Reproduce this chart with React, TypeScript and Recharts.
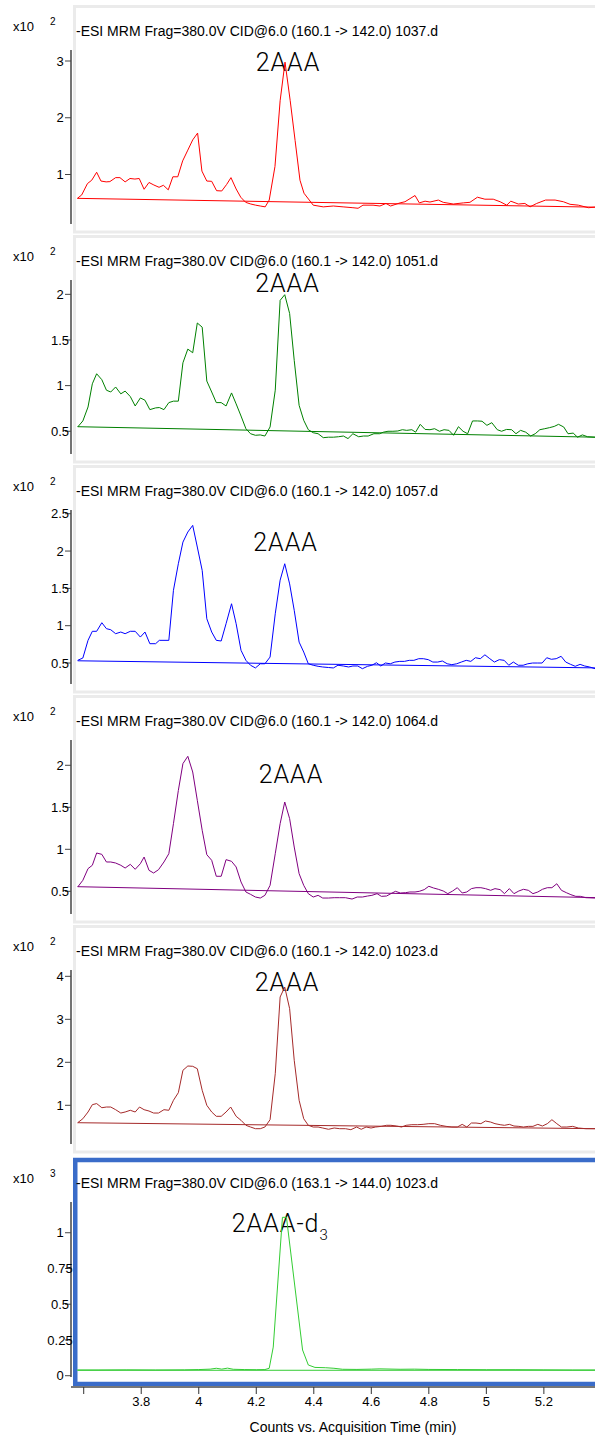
import { LineChart, Line, XAxis, YAxis } from 'recharts';

// time axis (min)
const TIME_DOMAIN: [number, number] = [3.5558, 5.3778];
const timeTicks = [3.6, 3.8, 4, 4.2, 4.4, 4.6, 4.8, 5, 5.2];

// counts x10^2, [time, counts]
const trace1037: [number, number][] = [
  [3.578, 0.58], [3.593, 0.64], [3.613, 0.84], [3.628, 0.9], [3.645, 1.04], [3.66, 0.885],
  [3.678, 0.87], [3.691, 0.875], [3.711, 0.945], [3.726, 0.945], [3.744, 0.87], [3.761, 0.93],
  [3.778, 0.92], [3.793, 0.93], [3.81, 0.74], [3.827, 0.86], [3.844, 0.815], [3.862, 0.775],
  [3.877, 0.81], [3.894, 0.73], [3.91, 0.96], [3.927, 0.96], [3.944, 1.24], [3.962, 1.43],
  [3.979, 1.61], [3.996, 1.73], [4.011, 1.06], [4.028, 0.885], [4.045, 0.88], [4.062, 0.715],
  [4.08, 0.71], [4.097, 0.825], [4.112, 0.945], [4.13, 0.745], [4.146, 0.6], [4.163, 0.51],
  [4.181, 0.48], [4.198, 0.46], [4.214, 0.445], [4.231, 0.43], [4.245, 0.55], [4.265, 1.14],
  [4.283, 2.3], [4.3, 2.98], [4.318, 2.3], [4.335, 1.6], [4.352, 0.9], [4.366, 0.67],
  [4.398, 0.46], [4.433, 0.43], [4.468, 0.445], [4.502, 0.43], [4.536, 0.415], [4.554, 0.405],
  [4.571, 0.46], [4.606, 0.46], [4.63, 0.445], [4.651, 0.49], [4.667, 0.445], [4.7, 0.5],
  [4.717, 0.52], [4.752, 0.63], [4.767, 0.5], [4.787, 0.53], [4.804, 0.515], [4.833, 0.55],
  [4.85, 0.51], [4.885, 0.48], [4.92, 0.5], [4.943, 0.51], [4.969, 0.6], [4.995, 0.565],
  [5.024, 0.565], [5.048, 0.52], [5.071, 0.46], [5.085, 0.53], [5.111, 0.48], [5.134, 0.49],
  [5.152, 0.43], [5.175, 0.49], [5.206, 0.55], [5.239, 0.55], [5.268, 0.52], [5.291, 0.475],
  [5.32, 0.46], [5.355, 0.415], [5.378, 0.425],
];
const baseline1037: [number, number][] = [[3.578, 0.58], [5.378, 0.425]];

const trace1051: [number, number][] = [
  [3.579, 0.547], [3.597, 0.613], [3.615, 0.766], [3.63, 1.02], [3.645, 1.13], [3.663, 1.065],
  [3.679, 0.95], [3.694, 0.93], [3.711, 0.985], [3.729, 0.91], [3.744, 0.94], [3.762, 0.88],
  [3.779, 0.777], [3.797, 0.865], [3.813, 0.84], [3.83, 0.737], [3.85, 0.756], [3.863, 0.76],
  [3.879, 0.737], [3.896, 0.814], [3.912, 0.83], [3.929, 0.83], [3.945, 1.25], [3.962, 1.4],
  [3.979, 1.36], [3.995, 1.686], [4.012, 1.64], [4.028, 1.05], [4.045, 0.93], [4.061, 0.814],
  [4.078, 0.814], [4.095, 0.777], [4.114, 0.92], [4.13, 0.8], [4.147, 0.667], [4.164, 0.528],
  [4.18, 0.473], [4.197, 0.456], [4.214, 0.46], [4.23, 0.448], [4.248, 0.547], [4.266, 0.95],
  [4.283, 1.934], [4.299, 1.996], [4.316, 1.79], [4.332, 1.277], [4.349, 0.784], [4.365, 0.62],
  [4.381, 0.517], [4.398, 0.484], [4.415, 0.473], [4.433, 0.43], [4.451, 0.435], [4.468, 0.435],
  [4.486, 0.44], [4.503, 0.448], [4.519, 0.42], [4.536, 0.473], [4.556, 0.44], [4.573, 0.448],
  [4.589, 0.448], [4.609, 0.473], [4.629, 0.473], [4.642, 0.49], [4.658, 0.5], [4.675, 0.5],
  [4.692, 0.503], [4.708, 0.517], [4.723, 0.51], [4.741, 0.517], [4.754, 0.49], [4.77, 0.576],
  [4.787, 0.52], [4.804, 0.517], [4.82, 0.528], [4.837, 0.5], [4.853, 0.517], [4.87, 0.51],
  [4.886, 0.456], [4.903, 0.55], [4.919, 0.5], [4.935, 0.473], [4.952, 0.613], [4.969, 0.613],
  [4.985, 0.61], [5.002, 0.565], [5.019, 0.594], [5.038, 0.517], [5.053, 0.5], [5.07, 0.52],
  [5.088, 0.517], [5.103, 0.473], [5.119, 0.51], [5.137, 0.49], [5.154, 0.448], [5.17, 0.473],
  [5.186, 0.517], [5.203, 0.528], [5.22, 0.54], [5.236, 0.553], [5.251, 0.576], [5.269, 0.547],
  [5.284, 0.473], [5.302, 0.48], [5.317, 0.435], [5.334, 0.46], [5.352, 0.44], [5.378, 0.435],
];
const baseline1051: [number, number][] = [[3.579, 0.55], [5.378, 0.435]];

const trace1057: [number, number][] = [
  [3.579, 0.536], [3.597, 0.567], [3.615, 0.804], [3.63, 0.925], [3.645, 0.925], [3.663, 1.04],
  [3.679, 0.96], [3.694, 0.946], [3.711, 0.893], [3.729, 0.915], [3.744, 0.893], [3.762, 0.925],
  [3.779, 0.925], [3.797, 0.848], [3.813, 0.915], [3.83, 0.759], [3.85, 0.759], [3.863, 0.804],
  [3.896, 0.804], [3.912, 1.474], [3.929, 1.83], [3.945, 2.12], [3.962, 2.255], [3.979, 2.344],
  [3.995, 2.054], [4.012, 1.74], [4.028, 1.093], [4.045, 0.915], [4.061, 0.804], [4.078, 0.795],
  [4.095, 1.027], [4.114, 1.294], [4.13, 1.027], [4.147, 0.67], [4.164, 0.536], [4.18, 0.47],
  [4.197, 0.434], [4.214, 0.49], [4.23, 0.49], [4.248, 0.58], [4.266, 1.16], [4.283, 1.61],
  [4.299, 1.83], [4.316, 1.56], [4.332, 1.206], [4.349, 0.78], [4.365, 0.647], [4.381, 0.49],
  [4.398, 0.47], [4.415, 0.456], [4.431, 0.447], [4.451, 0.44], [4.468, 0.434], [4.484, 0.47],
  [4.503, 0.46], [4.521, 0.447], [4.536, 0.46], [4.553, 0.46], [4.569, 0.424], [4.587, 0.456],
  [4.602, 0.47], [4.618, 0.504], [4.633, 0.46], [4.649, 0.5], [4.666, 0.49], [4.682, 0.513],
  [4.699, 0.522], [4.715, 0.522], [4.732, 0.536], [4.748, 0.536], [4.765, 0.558], [4.781, 0.558],
  [4.798, 0.545], [4.814, 0.513], [4.831, 0.513], [4.847, 0.527], [4.864, 0.49], [4.88, 0.478],
  [4.897, 0.49], [4.913, 0.513], [4.93, 0.536], [4.946, 0.522], [4.962, 0.571], [4.979, 0.558],
  [4.995, 0.61], [5.012, 0.558], [5.028, 0.513], [5.045, 0.545], [5.062, 0.536], [5.078, 0.47],
  [5.094, 0.513], [5.111, 0.47], [5.128, 0.47], [5.144, 0.49], [5.161, 0.5], [5.177, 0.5],
  [5.194, 0.5], [5.21, 0.571], [5.226, 0.55], [5.243, 0.558], [5.26, 0.59], [5.276, 0.513],
  [5.293, 0.482], [5.309, 0.456], [5.326, 0.482], [5.342, 0.46], [5.359, 0.447], [5.378, 0.424],
];
const baseline1057: [number, number][] = [[3.579, 0.53], [5.378, 0.435]];

const trace1064: [number, number][] = [
  [3.579, 0.551], [3.597, 0.631], [3.615, 0.77], [3.63, 0.81], [3.645, 0.956], [3.663, 0.94],
  [3.679, 0.849], [3.694, 0.849], [3.711, 0.837], [3.729, 0.81], [3.744, 0.777], [3.762, 0.821],
  [3.779, 0.762], [3.797, 0.829], [3.81, 0.908], [3.827, 0.75], [3.843, 0.718], [3.86, 0.757],
  [3.879, 0.849], [3.896, 0.948], [3.912, 1.305], [3.929, 1.7], [3.945, 2.02], [3.962, 2.107],
  [3.979, 1.92], [3.995, 1.583], [4.012, 1.226], [4.028, 0.936], [4.045, 0.869], [4.061, 0.679],
  [4.078, 0.679], [4.095, 0.877], [4.114, 0.857], [4.13, 0.79], [4.147, 0.611], [4.164, 0.492],
  [4.18, 0.464], [4.197, 0.432], [4.214, 0.42], [4.23, 0.452], [4.248, 0.571], [4.266, 0.948],
  [4.283, 1.305], [4.299, 1.563], [4.316, 1.365], [4.332, 1.027], [4.349, 0.71], [4.365, 0.571],
  [4.381, 0.472], [4.398, 0.432], [4.415, 0.452], [4.431, 0.42], [4.451, 0.42], [4.471, 0.424],
  [4.49, 0.424], [4.51, 0.424], [4.533, 0.408], [4.551, 0.432], [4.569, 0.432], [4.587, 0.444],
  [4.602, 0.452], [4.62, 0.472], [4.635, 0.44], [4.653, 0.444], [4.668, 0.472], [4.684, 0.5],
  [4.701, 0.48], [4.719, 0.484], [4.734, 0.492], [4.752, 0.492], [4.767, 0.5], [4.784, 0.52],
  [4.8, 0.56], [4.816, 0.54], [4.833, 0.524], [4.85, 0.504], [4.866, 0.472], [4.883, 0.504],
  [4.899, 0.543], [4.916, 0.48], [4.932, 0.492], [4.948, 0.532], [4.964, 0.543], [4.981, 0.543],
  [4.997, 0.532], [5.015, 0.512], [5.03, 0.532], [5.048, 0.52], [5.063, 0.472], [5.08, 0.532],
  [5.096, 0.472], [5.113, 0.504], [5.129, 0.524], [5.146, 0.512], [5.162, 0.472], [5.179, 0.492],
  [5.195, 0.524], [5.212, 0.543], [5.228, 0.543], [5.245, 0.59], [5.261, 0.512], [5.278, 0.484],
  [5.294, 0.46], [5.311, 0.44], [5.327, 0.44], [5.346, 0.424], [5.378, 0.42],
];
const baseline1064: [number, number][] = [[3.579, 0.555], [5.378, 0.425]];

const trace1023: [number, number][] = [
  [3.579, 0.595], [3.597, 0.688], [3.615, 0.844], [3.63, 1.015], [3.645, 1.04], [3.663, 0.944],
  [3.679, 0.96], [3.694, 0.96], [3.711, 0.898], [3.729, 0.82], [3.744, 0.844], [3.762, 0.884],
  [3.779, 0.844], [3.794, 0.96], [3.81, 0.898], [3.827, 0.867], [3.843, 0.82], [3.86, 0.82],
  [3.879, 0.898], [3.896, 0.884], [3.912, 1.116], [3.929, 1.293], [3.945, 1.814], [3.962, 1.914],
  [3.979, 1.907], [3.995, 1.851], [4.012, 1.349], [4.028, 1.0], [4.045, 0.844], [4.061, 0.744],
  [4.078, 0.744], [4.095, 0.844], [4.111, 0.96], [4.13, 0.744], [4.147, 0.651], [4.164, 0.535],
  [4.18, 0.495], [4.197, 0.456], [4.214, 0.456], [4.23, 0.495], [4.248, 0.665], [4.266, 1.735],
  [4.283, 3.519], [4.299, 3.75], [4.316, 3.247], [4.332, 2.047], [4.349, 1.116], [4.365, 0.688],
  [4.381, 0.535], [4.398, 0.495], [4.415, 0.495], [4.431, 0.472], [4.451, 0.442], [4.471, 0.472],
  [4.49, 0.456], [4.51, 0.456], [4.529, 0.433], [4.549, 0.495], [4.565, 0.442], [4.582, 0.495],
  [4.599, 0.472], [4.615, 0.495], [4.635, 0.51], [4.653, 0.535], [4.668, 0.535], [4.688, 0.518],
  [4.705, 0.495], [4.721, 0.535], [4.741, 0.549], [4.761, 0.549], [4.78, 0.557], [4.8, 0.573],
  [4.82, 0.573], [4.84, 0.535], [4.86, 0.51], [4.88, 0.495], [4.899, 0.495], [4.916, 0.557],
  [4.932, 0.495], [4.948, 0.588], [4.964, 0.588], [4.981, 0.573], [4.997, 0.635], [5.015, 0.61],
  [5.03, 0.573], [5.048, 0.549], [5.063, 0.535], [5.08, 0.557], [5.096, 0.518], [5.113, 0.51],
  [5.129, 0.495], [5.146, 0.51], [5.162, 0.51], [5.179, 0.557], [5.195, 0.518], [5.212, 0.573],
  [5.228, 0.665], [5.245, 0.573], [5.261, 0.495], [5.28, 0.495], [5.3, 0.51], [5.32, 0.472],
  [5.346, 0.456], [5.378, 0.456],
];
const baseline1023: [number, number][] = [[3.579, 0.595], [5.378, 0.456]];

// counts x10^3
const traceD3: [number, number][] = [
  [3.578, 0.04], [3.65, 0.04], [3.75, 0.041], [3.85, 0.04], [3.95, 0.041], [4.0, 0.043],
  [4.04, 0.046], [4.061, 0.052], [4.08, 0.046], [4.1, 0.053], [4.12, 0.045], [4.16, 0.043],
  [4.2, 0.042], [4.23, 0.043], [4.245, 0.052], [4.259, 0.2], [4.291, 1.108], [4.305, 1.108],
  [4.361, 0.18], [4.381, 0.075], [4.404, 0.058], [4.44, 0.056], [4.47, 0.052], [4.5, 0.045],
  [4.55, 0.044], [4.6, 0.046], [4.63, 0.048], [4.7, 0.045], [4.75, 0.046], [4.8, 0.044],
  [4.9, 0.043], [5.0, 0.042], [5.1, 0.042], [5.2, 0.041], [5.3, 0.04], [5.378, 0.04],
];
const baselineD3: [number, number][] = [[3.578, 0.038], [5.378, 0.038]];

const toPoints = (arr: [number, number][]) => arr.map(([t, v]) => ({ t, v }));

interface Panel {
  top: number;
  title: string;
  exponent: string;
  color: string;
  trace: [number, number][];
  baseline: [number, number][];
  yDomain: [number, number];
  yTicks: number[];
  label: string;
  labelX: number;
  labelY: number;
  plotTop: number;
  plotHeight: number;
  highlight?: boolean;
}

const panels: Panel[] = [
  {
    top: 5, title: '-ESI MRM Frag=380.0V CID@6.0 (160.1 -> 142.0) 1037.d', exponent: '2',
    color: '#ff0000', trace: trace1037, baseline: baseline1037,
    yDomain: [0.128, 3.194], yTicks: [1, 2, 3], label: '2AAA', labelX: 288, labelY: 62,
    plotTop: 45, plotHeight: 174,
  },
  {
    top: 235, title: '-ESI MRM Frag=380.0V CID@6.0 (160.1 -> 142.0) 1051.d', exponent: '2',
    color: '#008000', trace: trace1051, baseline: baseline1051,
    yDomain: [0.251, 2.157], yTicks: [0.5, 1, 1.5, 2], label: '2AAA', labelX: 287.5, labelY: 283,
    plotTop: 45, plotHeight: 174,
  },
  {
    top: 465, title: '-ESI MRM Frag=380.0V CID@6.0 (160.1 -> 142.0) 1057.d', exponent: '2',
    color: '#0000ff', trace: trace1057, baseline: baseline1057,
    yDomain: [0.219, 2.55], yTicks: [0.5, 1, 1.5, 2, 2.5], label: '2AAA', labelX: 285.6, labelY: 542,
    plotTop: 45, plotHeight: 174,
  },
  {
    top: 695, title: '-ESI MRM Frag=380.0V CID@6.0 (160.1 -> 142.0) 1064.d', exponent: '2',
    color: '#800080', trace: trace1064, baseline: baseline1064,
    yDomain: [0.23, 2.301], yTicks: [0.5, 1, 1.5, 2], label: '2AAA', labelX: 291, labelY: 773.7,
    plotTop: 45, plotHeight: 174,
  },
  {
    top: 925, title: '-ESI MRM Frag=380.0V CID@6.0 (160.1 -> 142.0) 1023.d', exponent: '2',
    color: '#a52a2a', trace: trace1023, baseline: baseline1023,
    yDomain: [0.1, 4.147], yTicks: [1, 2, 3, 4], label: '2AAA', labelX: 287, labelY: 982,
    plotTop: 45, plotHeight: 174,
  },
  {
    top: 1157, title: '-ESI MRM Frag=380.0V CID@6.0 (163.1 -> 144.0) 1023.d', exponent: '3',
    color: '#33cc33', trace: traceD3, baseline: baselineD3,
    yDomain: [-0.009, 1.215], yTicks: [0, 0.25, 0.5, 0.75, 1], label: '2AAA-d', labelX: 231.7, labelY: 1223,
    plotTop: 45, plotHeight: 175, highlight: true,
  },
];

const FONT = '"Liberation Sans", Arial, sans-serif';
const LABEL_FONT = 'Roboto, "Open Sans", sans-serif';

function YTick({ y, payload }: any) {
  return (
    <text x={60} y={y} dy={4.6} textAnchor="middle" fontSize={13} fontFamily={FONT} fill="#000">
      {payload.value}
    </text>
  );
}

function PanelChart({ p }: { p: Panel }) {
  const H = 230;
  return (
    <div style={{ position: 'absolute', left: 0, top: p.top, width: 595, height: H }}>
      <LineChart
        width={595}
        height={H}
        margin={{ top: p.plotTop, right: 0, bottom: H - p.plotTop - p.plotHeight, left: 0 }}
      >
        <XAxis type="number" dataKey="t" domain={TIME_DOMAIN} allowDataOverflow hide />
        <YAxis
          type="number"
          width={71}
          domain={p.yDomain}
          ticks={p.yTicks}
          interval={0}
          allowDataOverflow
          tickSize={6}
          tick={<YTick />}
          axisLine={{ stroke: '#444', strokeWidth: 1.5 }}
          tickLine={{ stroke: '#444' }}
        />
        <Line
          data={toPoints(p.baseline)}
          dataKey="v"
          type="linear"
          stroke={p.color}
          strokeWidth={1}
          dot={false}
          isAnimationActive={false}
        />
        <Line
          data={toPoints(p.trace)}
          dataKey="v"
          type="linear"
          stroke={p.color}
          strokeWidth={1}
          dot={false}
          isAnimationActive={false}
        />
      </LineChart>
    </div>
  );
}

export default function App() {
  return (
    <div style={{ position: 'absolute', left: 0, top: 0, width: 595, height: 1438, background: '#fff', overflow: 'hidden' }}>
      <svg width={595} height={1438} style={{ position: 'absolute', left: 0, top: 0 }}>
        {panels.map((p) =>
          p.highlight ? (
            <rect key={p.title + 'f'} x={75.25} y={1160} width={530} height={224} fill="#fff" stroke="#3a6cc9" strokeWidth={4.5} />
          ) : (
            <rect key={p.title + 'f'} x={74.5} y={p.top + 1.5} width={530} height={225.5} fill="#fff" stroke="#ebebeb" strokeWidth={3} />
          )
        )}
        {panels.map((p) => (
          <g key={p.title} fontFamily={FONT} fill="#000">
            <text x={13} y={p.top + 26} fontSize={13}>x10</text>
            <text x={50} y={p.top + 20} fontSize={10}>{p.exponent}</text>
            <text x={76} y={p.top + 31} fontSize={14}>{p.title}</text>
            {p.highlight ? (
              <text x={p.labelX} y={p.labelY + 9} fontSize={25} fontFamily={LABEL_FONT} fontWeight={300} letterSpacing={1}>
                {p.label}
                <tspan fontSize={15} dy={8}>3</tspan>
              </text>
            ) : (
              <text x={p.labelX} y={p.labelY + 9} fontSize={25} fontFamily={LABEL_FONT} fontWeight={300} letterSpacing={1} textAnchor="middle">
                {p.label}
              </text>
            )}
          </g>
        ))}
        <text x={353} y={1431.6} fontSize={14} fontFamily={FONT} textAnchor="middle" fill="#000">
          Counts vs. Acquisition Time (min)
        </text>
      </svg>
      {panels.map((p) => (
        <PanelChart key={p.title} p={p} />
      ))}
      <div style={{ position: 'absolute', left: 0, top: 1380, width: 595, height: 58 }}>
        <LineChart width={595} height={58} data={toPoints(traceD3)} margin={{ top: 0, right: 0, bottom: 0, left: 71 }}>
          <XAxis
            type="number"
            dataKey="t"
            domain={TIME_DOMAIN}
            allowDataOverflow
            ticks={timeTicks}
            interval={0}
            height={51}
            tickSize={7}
            tickMargin={3}
            tickFormatter={(v: number) => (v === 3.6 ? '' : String(v))}
            tick={{ fontSize: 13, fontFamily: FONT, fill: '#000' }}
            axisLine={{ stroke: '#777', strokeWidth: 2 }}
            tickLine={{ stroke: '#333' }}
          />
          <YAxis hide domain={[0, 1]} />
        </LineChart>
      </div>
    </div>
  );
}
